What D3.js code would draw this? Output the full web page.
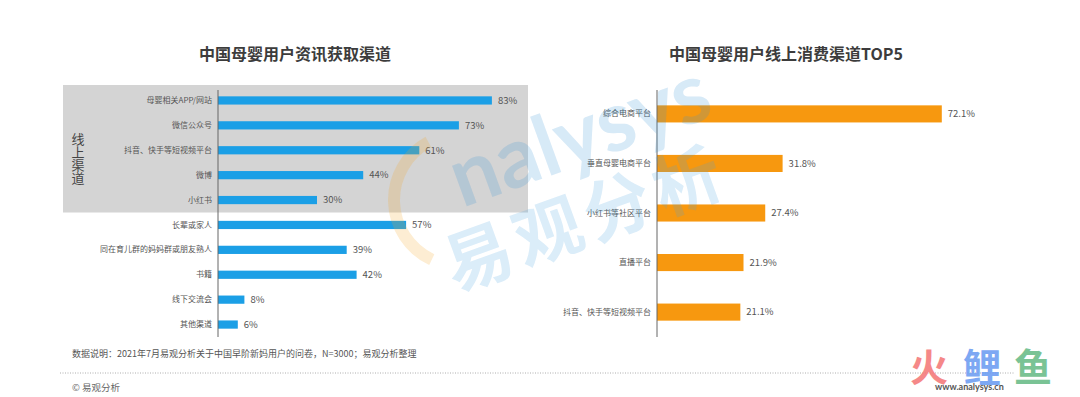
<!DOCTYPE html>
<html>
<head>
<meta charset="utf-8">
<script src="https://cdn.jsdelivr.net/npm/d3@7"></script>
<style>
  body { margin: 0; background: #fff; }
  svg { display: block; font-family: "Noto Sans CJK SC", "Noto Sans", sans-serif; }
</style>
</head>
<body>
<div id="chart"></div>
<script>
// left chart: 信息获取渠道
var infoChannels = ['母婴相关APP/网站', '微信公众号', '抖音、快手等短视频平台', '微博', '小红书',
  '长辈或家人', '同在育儿群的妈妈群或朋友熟人', '书籍', '线下交流会', '其他渠道'];
var infoValues = [83, 73, 61, 44, 30, 57, 39, 42, 8, 6];
var onlineCount = 5; // first five rows sit in the grey "线上渠道" block

// right chart: 线上消费渠道 TOP5
var shopChannels = ['综合电商平台', '垂直母婴电商平台', '小红书等社区平台', '直播平台', '抖音、快手等短视频平台'];
var shopValues = [72.1, 31.8, 27.4, 21.9, 21.1];

var W = 1080, H = 397;

var svg = d3.select('#chart').append('svg')
    .attr('width', W)
    .attr('height', H)

// ---------- left chart ----------
var lx0 = 218;
var lx = d3.scaleLinear().domain([0, 100]).range([lx0, lx0 + 330]);
var ly = d3.scaleBand()
    .domain(infoChannels)
    .range([88, 337])
    .paddingInner(0.67)
    .paddingOuter(0.335);

// grey block behind the online channels
svg.append('rect')
    .attr('x', 63)
    .attr('y', 85)
    .attr('width', 465)
    .attr('height', ly(infoChannels[onlineCount - 1]) + ly.bandwidth() / 2 + ly.step() / 2 - 85)
    .attr('fill', '#d4d4d4')

svg.append('text')
    .attr('x', 295)
    .attr('y', 60)
    .attr('text-anchor', 'middle')
    .attr('font-size', 16)
    .attr('font-weight', 'bold')
    .attr('fill', '#3c3c3c')
    .text('中国母婴用户资讯获取渠道');

// vertical label
svg.append('text')
    .attr('x', 78)
    .attr('y', 133)
    .style('writing-mode', 'vertical-rl')
    .style('text-orientation', 'upright')
    .attr('font-size', 13)
    .attr('fill', '#444')
    .text('线上渠道');

svg.selectAll('rect.info')
    .data(infoValues)
    .enter().append('rect')
    .attr('class', 'info')
    .attr('x', lx(0))
    .attr('y', function(d, i) { return ly(infoChannels[i]); })
    .attr('width', function(d) { return lx(d) - lx(0); })
    .attr('height', ly.bandwidth())
    .attr('fill', '#1b9fe6')

svg.selectAll('text.infoval')
    .data(infoValues)
    .enter().append('text')
    .attr('class', 'infoval')
    .attr('x', function(d) { return lx(d) + 6; })
    .attr('y', function(d, i) { return ly(infoChannels[i]) + ly.bandwidth() / 2; })
    .attr('dy', '0.35em')
    .attr('font-size', 9.5)
    .attr('fill', '#555')
    .text(function(d) { return d + '%'; });

var leftAxis = svg.append('g')
    .attr('transform', 'translate(' + lx0 + ',0)')
    .call(d3.axisLeft(ly).tickSize(0).tickPadding(6));
leftAxis.select('.domain').remove();
leftAxis.selectAll('text')
    .attr('font-size', 8)
    .attr('fill', '#555')
    .style('font-family', '"Noto Sans CJK SC", sans-serif');

svg.append('line')
    .attr('x1', lx0).attr('x2', lx0)
    .attr('y1', 90).attr('y2', 337)
    .attr('stroke', '#666')
    .attr('stroke-width', 1)

// ---------- right chart ----------
var rx0 = 657;
var rx = d3.scaleLinear().domain([0, 100]).range([rx0, rx0 + 395]);
var ry = d3.scaleBand()
    .domain(shopChannels)
    .range([89, 337])
    .paddingInner(0.655)
    .paddingOuter(0.33);

svg.append('text')
    .attr('x', 786)
    .attr('y', 60)
    .attr('text-anchor', 'middle')
    .attr('font-size', 16)
    .attr('font-weight', 'bold')
    .attr('fill', '#3c3c3c')
    .text('中国母婴用户线上消费渠道TOP5');

svg.selectAll('rect.shop')
    .data(shopValues)
    .enter().append('rect')
    .attr('class', 'shop')
    .attr('x', rx(0))
    .attr('y', function(d, i) { return ry(shopChannels[i]); })
    .attr('width', function(d) { return rx(d) - rx(0); })
    .attr('height', ry.bandwidth())
    .attr('fill', '#f7980f')

svg.selectAll('text.shopval')
    .data(shopValues)
    .enter().append('text')
    .attr('class', 'shopval')
    .attr('x', function(d) { return rx(d) + 6; })
    .attr('y', function(d, i) { return ry(shopChannels[i]) + ry.bandwidth() / 2; })
    .attr('dy', '0.35em')
    .attr('font-size', 9.5)
    .attr('fill', '#555')
    .text(function(d) { return d.toFixed(1) + '%'; });

var rightAxis = svg.append('g')
    .attr('transform', 'translate(' + rx0 + ',0)')
    .call(d3.axisLeft(ry).tickSize(0).tickPadding(6));
rightAxis.select('.domain').remove();
rightAxis.selectAll('text')
    .attr('font-size', 8)
    .attr('fill', '#555')
    .style('font-family', '"Noto Sans CJK SC", sans-serif');

svg.append('line')
    .attr('x1', rx0).attr('x2', rx0)
    .attr('y1', 90).attr('y2', 337)
    .attr('stroke', '#666')
    .attr('stroke-width', 1)

// ---------- watermark ----------
var wm = svg.append('g').attr('opacity', 0.2).style('pointer-events', 'none');
wm.append('path')
    .attr('transform', 'translate(460,200)')
    .attr('d', d3.arc()({innerRadius: 60, outerRadius: 72, startAngle: -2.7, endAngle: -0.5}))
    .attr('fill', '#f6a623')
wm.append('text')
    .attr('transform', 'translate(462,208) rotate(-20)')
    .attr('font-size', 84)
    .attr('font-weight', 'bold')
    .attr('font-family', 'Lato, sans-serif')
    .attr('fill', '#3b95d6')
    .text('nalysys');
wm.append('text')
    .attr('transform', 'translate(455,292) rotate(-20)')
    .attr('font-size', 68)
    .attr('font-weight', 'bold')
    .attr('letter-spacing', 6)
    .attr('fill', '#4aa3e0')
    .text('易观分析');

// ---------- footer ----------
svg.append('text')
    .attr('x', 72)
    .attr('y', 357)
    .attr('font-size', 9)
    .attr('fill', '#555')
    .text('数据说明：2021年7月易观分析关于中国早阶新妈用户的问卷，N=3000；易观分析整理');

svg.append('line')
    .attr('x1', 60).attr('x2', 1015)
    .attr('y1', 373).attr('y2', 373)
    .attr('stroke', '#999')
    .attr('stroke-width', 0.8)
    .attr('stroke-dasharray', '1,1.5')

svg.append('text')
    .attr('x', 72)
    .attr('y', 391)
    .attr('font-size', 9.5)
    .attr('fill', '#666')
    .text('© 易观分析');

// bottom-right logo
var logo = svg.append('g').attr('font-weight', 'bold').attr('font-size', 38);
logo.append('text').attr('x', 910).attr('y', 381).attr('fill', '#f57c7c').attr('opacity', 0.9).text('火');
logo.append('text').attr('x', 963).attr('y', 381).attr('fill', '#6f9ff2').attr('opacity', 0.9).text('鲤');
logo.append('text').attr('x', 1014).attr('y', 381).attr('fill', '#6cbd8a').attr('opacity', 0.9).text('鱼');
svg.append('text')
    .attr('x', 935)
    .attr('y', 390)
    .attr('font-size', 9)
    .attr('font-weight', 'bold')
    .attr('fill', '#555')
    .attr('font-family', 'Lato, sans-serif')
    .text('www.analysys.cn');
</script>
</body>
</html>
